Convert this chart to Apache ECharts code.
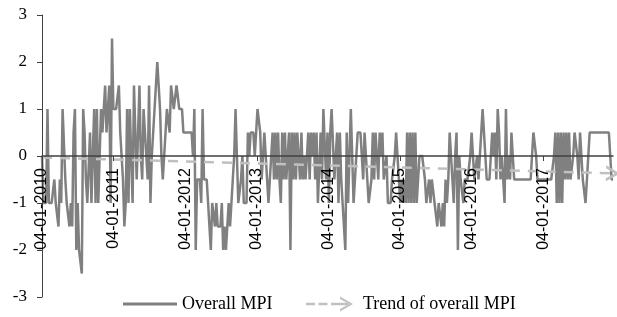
<!DOCTYPE html>
<html><head><meta charset="utf-8">
<script src="https://cdn.jsdelivr.net/npm/echarts@6/dist/echarts.min.js"></script>
<style>html,body{margin:0;padding:0;background:#fff}#c{width:617px;height:317px}</style>
</head><body><div id="c"></div>
<script>
// ---- data ----
const firstDate = '2010-01-04';   // first weekly observation
const stepDays = 7;               // weekly observations
const mpiValues = [
  0,-1,-1,-1,1,-1,-1,-1,-1,-0.5,
  -1,-1,-1.5,-0.5,-1,1,1,-0.5,-1,-1,
  -1.5,-1,-1.5,0.5,1,-2,-1,-2,-2,-2.5,
  1,0.5,-0.5,-1,-1,0.5,-1,-1,1,-1,
  1,-1,-1,1,0.5,1,1.5,0.5,1,1.5,
  -1,2.5,1,1,1,1,1.5,0.5,0,-0.5,
  -1.5,-1,1,-1,1,1,-1,1.5,1.5,-0.5,
  0.5,1.5,0,-0.5,1,1,0,-0.5,1.5,-1,
  0,0.5,1,1.5,2,1.5,1,0,-0.5,0,
  0.5,1,1,0.5,1.5,1.5,1,1,1.5,1.5,
  1,1,1,0.5,0.5,0.5,0.5,0.5,0.5,0.5,
  0,1,-2,-0.5,-0.5,-0.5,-1,1,-0.5,-0.5,
  -0.5,-1,-1,-2,-1,-1,-1.5,-1,-1.5,-1.5,
  -1.5,-1,-2,-1.5,-2,-1.5,-1,-1.5,-1,-0.5,
  0,1,0,-1,-1,-0.5,0,-1,-1,-1,
  0.5,0,0.5,0.5,0.5,0,0.5,1,1,0.5,
  -0.5,0,0.5,0,-0.5,-1,-1,0,0.5,-0.5,
  0.5,-0.5,0.5,-0.5,-1,0.5,-0.5,0.5,-0.5,0,
  0.5,-2,0.5,-0.5,0.5,-0.5,0.5,0,-0.5,0.5,
  -0.5,0,-0.5,0,0.5,-0.5,0.5,0,0.5,-0.5,
  0.5,-1,-1,0.5,-0.5,1,1,-0.5,0.5,-1,
  0.5,1,1,-0.5,0,0.5,-1,0.5,-0.5,-1,
  -1,-2,0.5,-1,0,1,0,-1,-0.5,0,
  0.5,0.5,0.5,0,-0.5,0.5,0,-0.5,-1,-1,
  -0.5,0.5,-0.5,0.5,0,-0.5,0.5,0,0.5,-0.5,
  -0.5,0,-1,-1,-1,-0.5,-0.5,0,0.5,0,
  -0.5,-1,-0.5,-1,-0.5,-1,0.5,-1,0.5,-1,
  0.5,-1,0.5,-1,-1,0,0,0,0,-0.5,
  -1,-1,-0.5,-1,-0.5,-0.5,-1,-1,-1.5,-1,
  -1,-1.5,-1,-1.5,-0.5,-1,-0.5,0.5,0.5,-0.5,
  -1,0,0.5,-2,0,-0.5,-0.5,-1,-0.5,-0.5,
  -0.5,-0.5,0,0.5,0.5,-0.5,-0.5,0,-0.5,0,
  0.5,1,0.5,0,-0.5,-0.5,-0.5,-0.5,0.5,0,
  0.5,-0.5,1,0.5,-0.5,0,-0.5,-1,1,-0.5,
  0,-0.5,0.5,0.5,-0.5,-0.5,-0.5,-0.5,-0.5,-0.5,
  -0.5,-0.5,-0.5,-0.5,-0.5,-0.5,-0.5,0,0.5,0.5,
  0,-0.5,-0.5,-0.5,-0.5,-0.5,-0.5,-0.5,-0.5,-0.5,
  -0.5,-0.5,-0.5,0,0.5,-1,0.5,-1,0.5,-1,
  0.5,-0.5,0.5,-0.5,0.5,-0.5,-0.5,0,0.5,0.5,
  0,-0.5,0.5,0,-0.5,-0.5,-1,-1,0,0.5,
  0.5,0.5,0.5,0.5,0.5,0.5,0.5,0.5,0.5,0.5,
  0.5,0.5,0.5,0.5,0,-0.5,-0.5
];
const trendValues = [-0.03, -0.37]; // linear trend: value at first and last observation
const xLabelDates = ['2010-01-04','2011-01-04','2012-01-04','2013-01-04','2014-01-04','2015-01-04','2016-01-04','2017-01-04'];
const xTickDates = ['2011-01-04','2013-01-04','2015-01-04','2017-01-04'];
const yMin = -3, yMax = 3, yStep = 1;
const seriesNames = ['Overall MPI', 'Trend of overall MPI'];

// ---- helpers ----
function parseDate(s) { const p = s.split('-').map(Number); return new Date(p[0], p[1] - 1, p[2]).getTime(); }
const t0 = parseDate(firstDate);
const dates = mpiValues.map((v, i) => { const d = new Date(t0); d.setDate(d.getDate() + i * stepDays); return d.getTime(); });
const pad = n => (n < 10 ? '0' : '') + n;
function fmt(ts) { const d = new Date(ts); return pad(d.getDate()) + '-' + pad(d.getMonth() + 1) + '-' + d.getFullYear(); }

const serif = "'Liberation Serif', 'Times New Roman', serif";
const sans = "'Liberation Sans', Arial, sans-serif";
const chevronUp = 'path://M0,13L7.5,0L15,13L12.2,13L7.5,4.9L2.8,13Z';
const trendIcon = 'path://M0,6.2L9,6.2L9,8.8L0,8.8Z M12.5,6.2L21.5,6.2L21.5,8.8L12.5,8.8Z M25,6.2L42,6.2L42,8.8L25,8.8Z M34,0L47,7.5L34,15L34,12.4L43.2,7.5L34,2.6Z';

const gridTop = 15, gridBottom = 20, chartH = 317;
const plotH = chartH - gridTop - gridBottom;
// place x axis line at value 0 (pixel offset from grid bottom)
const zeroOffset = -plotH * (0 - yMin) / (yMax - yMin);

const chart = echarts.init(document.getElementById('c'), null, { renderer: 'canvas' });
chart.setOption({
  animation: false,
  grid: { left: 42, right: 4, top: gridTop, bottom: gridBottom, outerBoundsMode: 'none', containLabel: false },
  legend: [
    { data: [{ name: seriesNames[0], icon: 'rect' }], left: 123, top: 295, padding: 0,
      itemWidth: 54, itemHeight: 3, itemGap: 5,
      textStyle: { fontFamily: serif, fontSize: 18, color: '#000' } },
    { data: [{ name: seriesNames[1], icon: trendIcon }], left: 306, top: 295, padding: 0,
      itemWidth: 47, itemHeight: 15,
      textStyle: { fontFamily: serif, fontSize: 18, color: '#000', padding: [0, 0, 0, 5] } }
  ],
  xAxis: {
    type: 'value', position: 'bottom', offset: zeroOffset, z: 10,
    min: dates[0], max: dates[dates.length - 1],
    axisLine: { onZero: false, lineStyle: { color: '#404040', width: 1.5 } },
    axisTick: { show: true, length: 5, customValues: xTickDates.map(parseDate), lineStyle: { color: '#404040' } },
    axisLabel: { customValues: xLabelDates.map(parseDate), rotate: 90, margin: 12,
      formatter: v => fmt(v), fontFamily: sans, fontSize: 16, color: '#000' },
    splitLine: { show: false }
  },
  yAxis: {
    type: 'value', min: yMin, max: yMax, interval: yStep, z: 10,
    axisLine: { show: true, lineStyle: { color: '#404040', width: 1 } },
    axisTick: { show: true, length: 5, lineStyle: { color: '#404040' } },
    axisLabel: { fontFamily: serif, fontSize: 17, color: '#000', margin: 15 },
    splitLine: { show: false }
  },
  series: [
    { name: seriesNames[0], type: 'line', data: mpiValues.map((v, i) => [dates[i], v]),
      symbol: 'none', color: '#808080', lineStyle: { color: '#808080', width: 2.5 }, z: 3 },
    { name: seriesNames[1], type: 'line', data: [], symbol: 'none', color: '#C0C0C0',
      lineStyle: { color: '#C0C0C0', width: 2.5, type: [10, 8] }, z: 4,
      markLine: { silent: true, animation: false, symbol: ['none', chevronUp], symbolSize: [16, 14],
        label: { show: false },
        lineStyle: { color: '#C0C0C0', width: 2.5, type: [10, 8] },
        emphasis: { disabled: true },
        data: [[{ coord: [dates[0], trendValues[0]] }, { coord: [dates[dates.length - 1], trendValues[1]] }]] } }
  ]
});
</script></body></html>
